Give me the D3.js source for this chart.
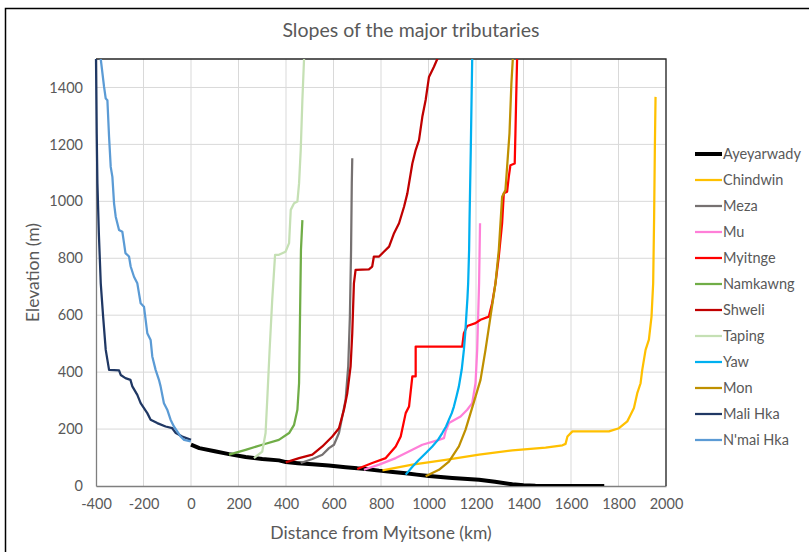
<html>
<head>
<meta charset="utf-8">
<title>Slopes of the major tributaries</title>
<script src="https://cdn.jsdelivr.net/npm/d3@7"></script>
<style type="text/css">
	body { margin: 0; background: #fff; }
	text { font-family: Lato, "Open Sans", sans-serif; fill: #595959; }
</style>
</head>
<body>
<div id="chart"></div>
<script type="text/javascript">

	// River profiles, [distance from Myitsone (km), elevation (m)]
	var ayeyarwady = [[0,145],[35,133],[100,122],[160,112],[230,102],[300,95],[370,90],[400,84],[450,80],[511,76],[580,72],[651,66],[700,62],[735,60],[792,54],[850,49],[904,45],[950,40],[1002,35],[1100,28],[1213,22],[1280,15],[1353,6],[1400,3],[1450,1],[1550,0],[1740,0]];
	var chindwin = [[806,55],[932,75],[1072,92],[1213,110],[1353,125],[1493,135],[1564,143],[1577,148],[1585,174],[1606,192],[1760,192],[1802,203],[1837,227],[1851,250],[1865,274],[1879,326],[1893,361],[1900,408],[1914,478],[1928,514],[1939,595],[1946,712],[1950,946],[1953,1180],[1956,1367]];
	var meza = [[462,81],[511,95],[553,110],[581,133],[602,145],[623,186],[637,244],[651,303],[662,420],[669,595],[674,829],[677,1063],[679,1151]];
	var mu = [[728,57],[792,75],[862,98],[932,127],[974,145],[1044,162],[1065,168],[1072,192],[1086,221],[1135,244],[1163,268],[1184,291],[1198,361],[1205,478],[1213,712],[1217,923]];
	var myitnge = [[700,60],[763,81],[820,98],[862,139],[883,174],[904,256],[918,279],[932,385],[946,385],[946,490],[1142,490],[1149,537],[1163,562],[1198,572],[1219,584],[1254,595],[1268,642],[1282,712],[1296,806],[1310,923],[1317,1028],[1331,1034],[1338,1086],[1345,1127],[1363,1133],[1366,1239],[1369,1356],[1373,1500],[1374,1560]];
	var namkawng = [[160,110],[230,127],[300,145],[370,162],[413,186],[434,215],[448,268],[455,361],[459,595],[463,829],[469,934]];
	var shweli = [[399,83],[455,98],[511,110],[553,139],[595,174],[623,203],[644,268],[658,326],[672,420],[679,537],[686,712],[693,759],[749,761],[763,771],[770,806],[792,806],[812,823],[834,841],[855,888],[876,923],[897,981],[911,1028],[932,1133],[946,1180],[960,1215],[974,1297],[988,1356],[1002,1437],[1023,1473],[1037,1500],[1045,1540]];
	var taping = [[265,98],[300,121],[314,186],[321,303],[331,478],[342,654],[354,812],[370,812],[398,823],[413,853],[420,970],[434,993],[448,999],[455,1063],[462,1180],[469,1356],[476,1500],[478,1540]];
	var yaw = [[904,40],[935,70],[960,92],[990,117],[1016,139],[1040,162],[1058,186],[1074,209],[1086,233],[1098,256],[1107,279],[1118,315],[1128,350],[1140,410],[1149,478],[1155,540],[1159,595],[1164,660],[1167,712],[1171,830],[1173,946],[1178,1180],[1184,1500],[1185,1540]];
	var mon = [[988,34],[1044,57],[1086,86],[1128,139],[1156,198],[1177,256],[1198,314],[1219,373],[1240,478],[1261,595],[1282,712],[1296,829],[1310,1016],[1324,1040],[1331,1121],[1341,1239],[1349,1414],[1355,1500],[1357,1540]];
	var maliHka = [[0,162],[-37,174],[-64,186],[-79,203],[-107,209],[-142,221],[-170,233],[-184,256],[-212,291],[-226,320],[-247,350],[-255,373],[-276,379],[-296,390],[-303,406],[-345,408],[-359,478],[-370,595],[-380,712],[-388,888],[-394,1063],[-397,1239],[-400,1500]];
	var nmaiHka = [[-1,157],[-29,162],[-44,174],[-58,192],[-72,209],[-86,233],[-100,268],[-114,291],[-128,350],[-135,373],[-149,408],[-163,455],[-170,513],[-184,537],[-198,630],[-212,642],[-226,712],[-240,735],[-254,771],[-261,806],[-276,818],[-282,853],[-289,893],[-303,899],[-317,946],[-324,993],[-331,1086],[-338,1121],[-345,1227],[-352,1355],[-359,1361],[-366,1402],[-380,1500],[-385,1540]];

	var names = ["Ayeyarwady", "Chindwin", "Meza", "Mu", "Myitnge", "Namkawng", "Shweli", "Taping", "Yaw", "Mon", "Mali Hka", "N'mai Hka"];
	var series = [ayeyarwady, chindwin, meza, mu, myitnge, namkawng, shweli, taping, yaw, mon, maliHka, nmaiHka];
	var colors = ["#000000", "#FFC000", "#767171", "#FF7FD8", "#FF0000", "#70AD47", "#C00000", "#C5E0B4", "#00B0F0", "#BF9000", "#203864", "#5B9BD5"];

	var xTicks = d3.range(-400, 2001, 200),
	    yTicks = d3.range(0, 1401, 200);

	var W = 809, H = 552,
	    m = { left: 96, right: 666, top: 59, bottom: 486 };

	var svg = d3.select("#chart").append("svg").attr("width", W).attr("height", H);

	// Outer chart frame
	svg.append("rect").attr("x", 5.5).attr("y", 8.5).attr("width", 820).attr("height", 560)
		.attr("fill", "none").attr("stroke", "#000").attr("stroke-width", 1.5);

	var x = d3.scaleLinear().domain([-400, 2000]).range([m.left, m.right]),
	    y = d3.scaleLinear().domain([0, 1500]).range([m.bottom, m.top]);

	// Gridlines
	svg.append("g").selectAll("line").data(xTicks.slice(1)).enter().append("line")
		.attr("x1", function(d){ return x(d) }).attr("x2", function(d){ return x(d) })
		.attr("y1", m.top).attr("y2", m.bottom).attr("stroke", "#d9d9d9");
	svg.append("g").selectAll("line").data(yTicks.slice(1)).enter().append("line")
		.attr("x1", m.left).attr("x2", m.right)
		.attr("y1", function(d){ return y(d) }).attr("y2", function(d){ return y(d) }).attr("stroke", "#d9d9d9");

	// Axes (plain hyphen, no thousands separator)
	var fmt = function(d){ return String(d) };
	var xAxis = svg.append("g").attr("transform", "translate(0," + m.bottom + ")")
		.call(d3.axisBottom(x).tickValues(xTicks).tickFormat(fmt).tickSize(0).tickPadding(13));
	var yAxis = svg.append("g").attr("transform", "translate(" + m.left + ",0)")
		.call(d3.axisLeft(y).tickValues(yTicks).tickFormat(fmt).tickSize(0).tickPadding(13));
	[xAxis, yAxis].forEach(function(a){
		a.select(".domain").attr("stroke", "#7f7f7f").attr("stroke-width", 1.3);
		a.selectAll("text").attr("font-size", 14.5).attr("font-family", "Lato, sans-serif").attr("fill", "#595959");
	});

	// Plot border on top and right
	svg.append("path").attr("d", "M" + m.left + "," + m.top + "H" + m.right + "V" + m.bottom)
		.attr("fill", "none").attr("stroke", "#262626").attr("stroke-width", 1.3);

	svg.append("clipPath").attr("id", "plot").append("rect")
		.attr("x", m.left - 2).attr("y", m.top).attr("width", m.right - m.left + 2).attr("height", m.bottom - m.top);

	var line = d3.line().x(function(d){ return x(d[0]) }).y(function(d){ return y(d[1]) });

	svg.append("g").attr("clip-path", "url(#plot)").selectAll("path").data(series).enter().append("path")
		.attr("d", line)
		.attr("fill", "none")
		.attr("stroke", function(d, i){ return colors[i] })
		.attr("stroke-width", function(d, i){ return i == 0 ? 4 : 2.25 })
		.attr("stroke-linejoin", "round");

	// Legend
	var legend = svg.append("g").selectAll("g").data(names).enter().append("g")
		.attr("transform", function(d, i){ return "translate(695," + (154 + i * 26) + ")" });
	legend.append("line").attr("x1", 0).attr("x2", 27)
		.attr("stroke", function(d, i){ return colors[i] })
		.attr("stroke-width", function(d, i){ return i == 0 ? 4 : 2.25 });
	legend.append("text").attr("x", 28).attr("dy", "0.35em").attr("font-size", 14.5).text(function(d){ return d });

	// Titles
	svg.append("text").attr("x", 411).attr("y", 37).attr("text-anchor", "middle").attr("font-size", 19.5)
		.text("Slopes of the major tributaries");
	svg.append("text").attr("x", (m.left + m.right) / 2).attr("y", 539).attr("text-anchor", "middle").attr("font-size", 17.5)
		.text("Distance from Myitsone (km)");
	svg.append("text").attr("transform", "translate(39," + ((m.top + m.bottom) / 2) + ") rotate(-90)")
		.attr("text-anchor", "middle").attr("font-size", 17.5).text("Elevation (m)");

</script>
</body>
</html>
